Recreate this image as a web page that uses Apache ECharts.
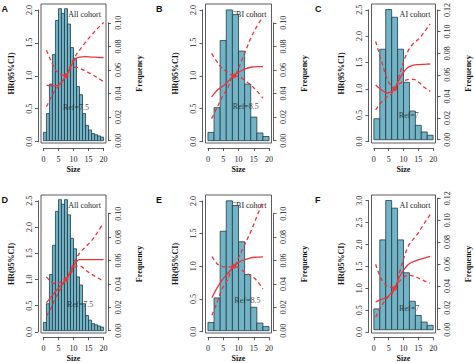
<!DOCTYPE html>
<html><head><meta charset="utf-8">
<script src="https://cdn.jsdelivr.net/npm/echarts@6/dist/echarts.min.js"></script>
<style>html,body{margin:0;padding:0;background:#fff}#c{width:474px;height:363px}</style>
</head><body><div id="c"></div>
<script>
// ---------- DATA ----------
// Histogram frequencies (All cohort: 1-unit bins 0..20; CBI / AI cohorts: 2-unit bins 0..20)
const allCohortFreq = [0.007, 0.023, 0.048, 0.073, 0.102, 0.112, 0.108, 0.112, 0.099, 0.079, 0.070, 0.046, 0.039, 0.023, 0.013, 0.009, 0.006, 0.005, 0.004, 0.003];
const cbiCohortFreq = [0.007, 0.028, 0.085, 0.111, 0.107, 0.076, 0.048, 0.020, 0.0065, 0.0035];
const aiCohortFreq  = [0.019, 0.082, 0.118, 0.111, 0.082, 0.052, 0.026, 0.013, 0.007, 0.004];
const xTickLabels = [0, 5, 10, 15, 20];

// HR curves (size, HR, lower 95%CI, upper 95%CI)
const sizeA = [1, 2.5, 4, 5.5, 7.5, 9, 10.5, 12, 14, 16, 18, 20];
const hrA   = [0.86, 0.85, 0.845, 0.875, 1.0, 1.13, 1.25, 1.285, 1.29, 1.285, 1.28, 1.275];
const loA   = [0.53, 0.67, 0.79, 0.86, 1.0, 1.10, 1.13, 1.115, 1.07, 1.025, 0.97, 0.91];
const hiA   = [1.39, 1.23, 1.09, 1.03, 1.0, 1.16, 1.29, 1.39, 1.51, 1.62, 1.72, 1.81];

const sizeB = [1.2, 3, 4.5, 6.5, 8.5, 10, 12, 14, 16, 18];
const hrB   = [0.68, 0.78, 0.83, 0.91, 1.0, 1.05, 1.10, 1.13, 1.14, 1.14];
const loB   = [0.35, 0.52, 0.66, 0.82, 1.0, 0.99, 0.935, 0.86, 0.77, 0.66];
const hiB   = [1.34, 1.21, 1.12, 1.05, 1.0, 1.12, 1.34, 1.57, 1.75, 1.90];

const sizeC = [0.6, 2.3, 4.5, 5.9, 7, 8.8, 11.1, 13.3, 15.2, 17, 19];
const hrC   = [1.07, 0.99, 0.92, 0.945, 1.0, 1.2, 1.39, 1.45, 1.46, 1.465, 1.47];
const loC   = [0.60, 0.73, 0.85, 0.90, 1.0, 1.10, 1.17, 1.18, 1.12, 1.03, 0.95];
const hiC   = [1.90, 1.58, 1.18, 1.05, 1.0, 1.30, 1.67, 1.86, 1.95, 2.08, 2.23];

const sizeD = [1, 2.5, 4, 5.5, 7.5, 9, 10.5, 12, 14, 16, 18, 20];
const hrD   = [0.56, 0.66, 0.77, 0.87, 1.0, 1.13, 1.30, 1.38, 1.38, 1.38, 1.38, 1.38];
const loD   = [0.30, 0.45, 0.64, 0.80, 1.0, 1.10, 1.24, 1.26, 1.18, 1.10, 1.03, 0.97];
const hiD   = [1.05, 0.96, 0.92, 0.95, 1.0, 1.17, 1.36, 1.50, 1.62, 1.74, 1.90, 2.08];

const sizeE = [1.3, 3, 4.5, 6.5, 8.5, 10, 12, 14, 16, 18];
const hrE   = [0.52, 0.67, 0.78, 0.89, 1.0, 1.06, 1.10, 1.13, 1.14, 1.145];
const loE   = [0.25, 0.45, 0.64, 0.80, 1.0, 0.98, 0.91, 0.86, 0.78, 0.65];
const hiE   = [1.15, 1.04, 1.0, 0.99, 1.0, 1.13, 1.33, 1.53, 1.76, 2.0];

const sizeF = [0.6, 2.3, 4.5, 5.9, 7, 8.8, 11.6, 14.5, 17, 19];
const hrF   = [0.69, 0.74, 0.80, 0.90, 1.0, 1.28, 1.545, 1.64, 1.69, 1.73];
const loF   = [0.34, 0.57, 0.78, 0.85, 1.0, 1.17, 1.30, 1.25, 1.17, 1.12];
const hiF   = [1.55, 1.24, 1.05, 1.02, 1.0, 1.40, 1.96, 2.22, 2.48, 2.68];

// ---------- LAYOUT ----------
const panels = [
  {letter:'A', cohort:'All cohort', ref:7.5, refLabel:'Ref=7.5', refPos:[10.8,0.52], freq:allCohortFreq, binW:1, size:sizeA, hr:hrA, lo:loA, hi:hiA,
   L:41, R:106, T:4, B:143, hrMin:-0.02, hrMax:2.09, hrTick:2.0, frMin:-0.002, frMax:0.116, frTick:0.10},
  {letter:'B', cohort:'CBI cohort', ref:8.5, refLabel:'Ref=8.5', refPos:[12.4,0.53], freq:cbiCohortFreq, binW:2, size:sizeB, hr:hrB, lo:loB, hi:hiB,
   L:205.5, R:271.5, T:4, B:143, hrMin:-0.02, hrMax:2.09, hrTick:2.0, frMin:-0.002, frMax:0.116, frTick:0.10},
  {letter:'C', cohort:'AI cohort', ref:7, refLabel:'Ref=7', refPos:[11.8,0.50], freq:aiCohortFreq, binW:2, size:sizeC, hr:hrC, lo:loC, hi:hiC,
   L:371.5, R:435.5, T:4, B:143, hrMin:-0.03, hrMax:2.61, hrTick:2.5, frMin:-0.003, frMax:0.123, frTick:0.12},
  {letter:'D', cohort:'All cohort', ref:7.5, refLabel:'Ref=7.5', refPos:[12.2,0.52], freq:allCohortFreq, binW:1, size:sizeD, hr:hrD, lo:loD, hi:hiD,
   L:41, R:106, T:195, B:333, hrMin:-0.02, hrMax:2.61, hrTick:2.5, frMin:-0.002, frMax:0.116, frTick:0.10},
  {letter:'E', cohort:'CBI cohort', ref:8.5, refLabel:'Ref=8.5', refPos:[12.9,0.48], freq:cbiCohortFreq, binW:2, size:sizeE, hr:hrE, lo:loE, hi:hiE,
   L:205.5, R:271.5, T:195, B:333, hrMin:-0.02, hrMax:2.09, hrTick:2.0, frMin:-0.002, frMax:0.116, frTick:0.10},
  {letter:'F', cohort:'AI cohort', ref:7, refLabel:'Ref=7', refPos:[11.9,0.53], freq:aiCohortFreq, binW:2, size:sizeF, hr:hrF, lo:loF, hi:hiF,
   L:371.5, R:435.5, T:195, B:333, hrMin:-0.02, hrMax:3.13, hrTick:3.0, frMin:-0.003, frMax:0.123, frTick:0.12}
];

const SERIF = '"Liberation Serif","Times New Roman",serif';
const RED = '#e8363b';
const AX = '#333';
const lblStyle = {fontFamily:SERIF, fontSize:8, color:'#222'};

const grid=[], xAxis=[], yAxis=[], series=[], graphic=[];

panels.forEach(p => {
  const W = p.R - p.L, H = p.B - p.T;
  const k = W / 21.6;
  // data grid (box)
  const g = grid.length;
  grid.push({left:p.L, top:p.T, width:W, height:H, show:true, borderColor:AX, borderWidth:0.8, backgroundColor:'transparent'});
  const xi = xAxis.length;
  xAxis.push({gridIndex:g, type:'value', min:-0.8, max:20.8, show:false});
  const yh = yAxis.length;
  yAxis.push({gridIndex:g, type:'value', min:p.hrMin, max:p.hrMax, show:false});
  const yf = yAxis.length;
  yAxis.push({gridIndex:g, type:'value', min:p.frMin, max:p.frMax, show:false});

  series.push({
    type:'custom', xAxisIndex:xi, yAxisIndex:yf, silent:true,
    data: p.freq.map((f,i)=>[i*p.binW, (i+1)*p.binW, f]),
    encode:{x:[0,1], y:2},
    renderItem:(params, api)=>{
      const a = api.coord([api.value(0), api.value(2)]);
      const b = api.coord([api.value(1), 0]);
      return {type:'rect', shape:{x:a[0], y:a[1], width:b[0]-a[0], height:b[1]-a[1]},
              style:{fill:'#73b3c6', stroke:'#1f3c48', lineWidth:0.8}};
    }
  });
  const mk = (arr, dashed) => ({
    type:'line', xAxisIndex:xi, yAxisIndex:yh, smooth:0.35, showSymbol:false, silent:true,
    data: p.size.map((s,i)=>[s, arr[i]]),
    lineStyle:{color:RED, width:1.3, type: dashed ? [4,3] : 'solid'}
  });
  series.push(mk(p.lo, true), mk(p.hi, true), mk(p.hr, false));
  series.push({type:'scatter', xAxisIndex:xi, yAxisIndex:yh, silent:true, data:[[p.ref, 1]], symbolSize:5, itemStyle:{color:RED}});
  series.push({type:'scatter', xAxisIndex:xi, yAxisIndex:yh, silent:true, data:[p.refPos], symbolSize:0.1,
    label:{show:true, position:'inside', formatter:p.refLabel, fontFamily:SERIF, fontSize:8, color:'#222'}});

  // x axis grid (0..20)
  const gx = grid.length;
  grid.push({left:p.L + 0.8*k, top:p.B + 4, width:20*k, height:1});
  xAxis.push({gridIndex:gx, type:'value', min:0, max:20, interval:5,
    axisLine:{show:true, lineStyle:{color:AX, width:0.8}},
    axisTick:{show:true, length:3, lineStyle:{color:AX, width:0.8}},
    axisLabel:{...lblStyle, margin:7, formatter:v=>String(v)},
    splitLine:{show:false},
    name:'Size', nameLocation:'middle', nameGap:17,
    nameTextStyle:{fontFamily:SERIF, fontSize:8, fontWeight:'bold', color:'#111'}});
  yAxis.push({gridIndex:gx, type:'value', show:false});

  // left HR axis grid (0..hrTick)
  const pix = v => p.T + (p.hrMax - v) / (p.hrMax - p.hrMin) * H;
  const gl = grid.length;
  grid.push({left:p.L - 3, top:pix(p.hrTick), width:1, height:pix(0) - pix(p.hrTick)});
  xAxis.push({gridIndex:gl, type:'value', show:false});
  yAxis.push({gridIndex:gl, type:'value', position:'left', min:0, max:p.hrTick, interval:0.5,
    axisLine:{show:true, lineStyle:{color:AX, width:0.8}},
    axisTick:{show:true, length:3, lineStyle:{color:AX, width:0.8}},
    axisLabel:{...lblStyle, rotate:90, margin:5, formatter:v=>v.toFixed(1)},
    splitLine:{show:false}});

  // right frequency axis grid (0..frTick)
  const fpix = v => p.T + (p.frMax - v) / (p.frMax - p.frMin) * H;
  const gr = grid.length;
  grid.push({left:p.R + 2, top:fpix(p.frTick), width:1, height:fpix(0) - fpix(p.frTick)});
  xAxis.push({gridIndex:gr, type:'value', show:false});
  yAxis.push({gridIndex:gr, type:'value', position:'right', min:0, max:p.frTick, interval:0.02,
    axisLine:{show:true, lineStyle:{color:AX, width:0.8}},
    axisTick:{show:true, length:3, lineStyle:{color:AX, width:0.8}},
    axisLabel:{...lblStyle, rotate:90, margin:5, formatter:v=>v.toFixed(2)},
    splitLine:{show:false}});

  // texts
  const colLeft = p.L < 100 ? 1.5 : (p.L < 300 ? 156 : 315);
  graphic.push({type:'text', left:colLeft, top:p.T + 0.5, style:{text:p.letter, font:'bold 9px "Liberation Sans", Arial, sans-serif', fill:'#111'}});
  graphic.push({type:'text', x:p.R - 5, y:p.T + 10, style:{text:p.cohort, font:'8px ' + SERIF, fill:'#222', textAlign:'right', textVerticalAlign:'middle'}});
  graphic.push({type:'text', x:p.L - 30, y:(p.T + p.B)/2, rotation:Math.PI/2,
    style:{text:'HR(95%CI)', font:'bold 8px ' + SERIF, fill:'#111', textAlign:'center', textVerticalAlign:'middle'}});
  graphic.push({type:'text', x:p.R + 33, y:(p.T + p.B)/2, rotation:Math.PI/2,
    style:{text:'Frequency', font:'bold 8px ' + SERIF, fill:'#111', textAlign:'center', textVerticalAlign:'middle'}});
});

const chart = echarts.init(document.getElementById('c'), null, {renderer:'svg'});
chart.setOption({animation:false, backgroundColor:'#fff', grid, xAxis, yAxis, series, graphic});
</script></body></html>
